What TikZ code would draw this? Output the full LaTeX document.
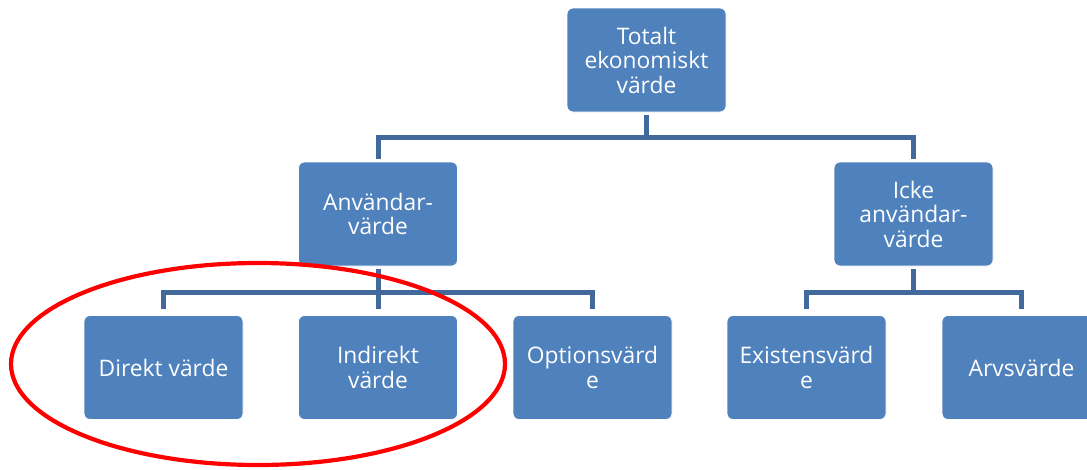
\documentclass[tikz,border=0pt]{standalone}
\usepackage{fontspec}
\setmainfont{Open Sans}
\definecolor{boxblue}{HTML}{4F81BD}
\definecolor{lineblue}{HTML}{41699C}
\definecolor{ringred}{HTML}{FF0000}
\begin{document}
\begin{tikzpicture}[x=1pt,y=-1pt,
  box/.style={rectangle, rounded corners=6pt, fill=boxblue, draw=white, line width=0.8pt,
    minimum width=159pt, minimum height=104pt, inner sep=0pt, align=center,
    text=white, font=\fontsize{22.8}{24.5}\selectfont},
  conn/.style={draw=lineblue, line width=5pt, line join=miter},
  ring/.style={draw=ringred, line width=4.2pt}]
\useasboundingbox (0,0) rectangle (1087,469);
\clip (0,0) rectangle (1087,469);
\node[box] (top) at (646.5,60) {Totalt\\ekonomiskt\\värde};
\node[box] (anv) at (378,214) {Användar-\\värde};
\node[box] (icke) at (913.5,214) {Icke\\användar-\\värde};
\node[box] (dir) at (163.5,367.5) {Direkt värde};
\node[box] (ind) at (378,367.5) {Indirekt\\värde};
\node[box] (opt) at (592.5,367.5) {Optionsvärd\\e};
\node[box] (exi) at (806.5,367.5) {Existensvärd\\e};
\node[box] (arv) at (1021.5,367.5) {Arvsvärde};
\coordinate (j1) at (646.5,137);
\coordinate (j2) at (378,292);
\coordinate (j3) at (913.5,292);
\draw[conn, shorten <=3pt] (top.south) -- (j1);
\draw[conn, shorten >=3pt] (j1) -| (anv.north);
\draw[conn, shorten >=3pt] (j1) -| (icke.north);
\draw[conn, shorten <=3pt] (anv.south) -- (j2);
\draw[conn, shorten >=6pt] (j2) -| (dir.north);
\draw[conn, shorten >=6pt] (j2) -- (ind.north);
\draw[conn, shorten >=6pt] (j2) -| (opt.north);
\draw[conn, shorten <=3pt] (icke.south) -- (j3);
\draw[conn, shorten >=6pt] (j3) -| (exi.north);
\draw[conn, shorten >=6pt] (j3) -| (arv.north);
\draw[ring] (258,364) ellipse [x radius=247, y radius=101];
\end{tikzpicture}
\end{document}
